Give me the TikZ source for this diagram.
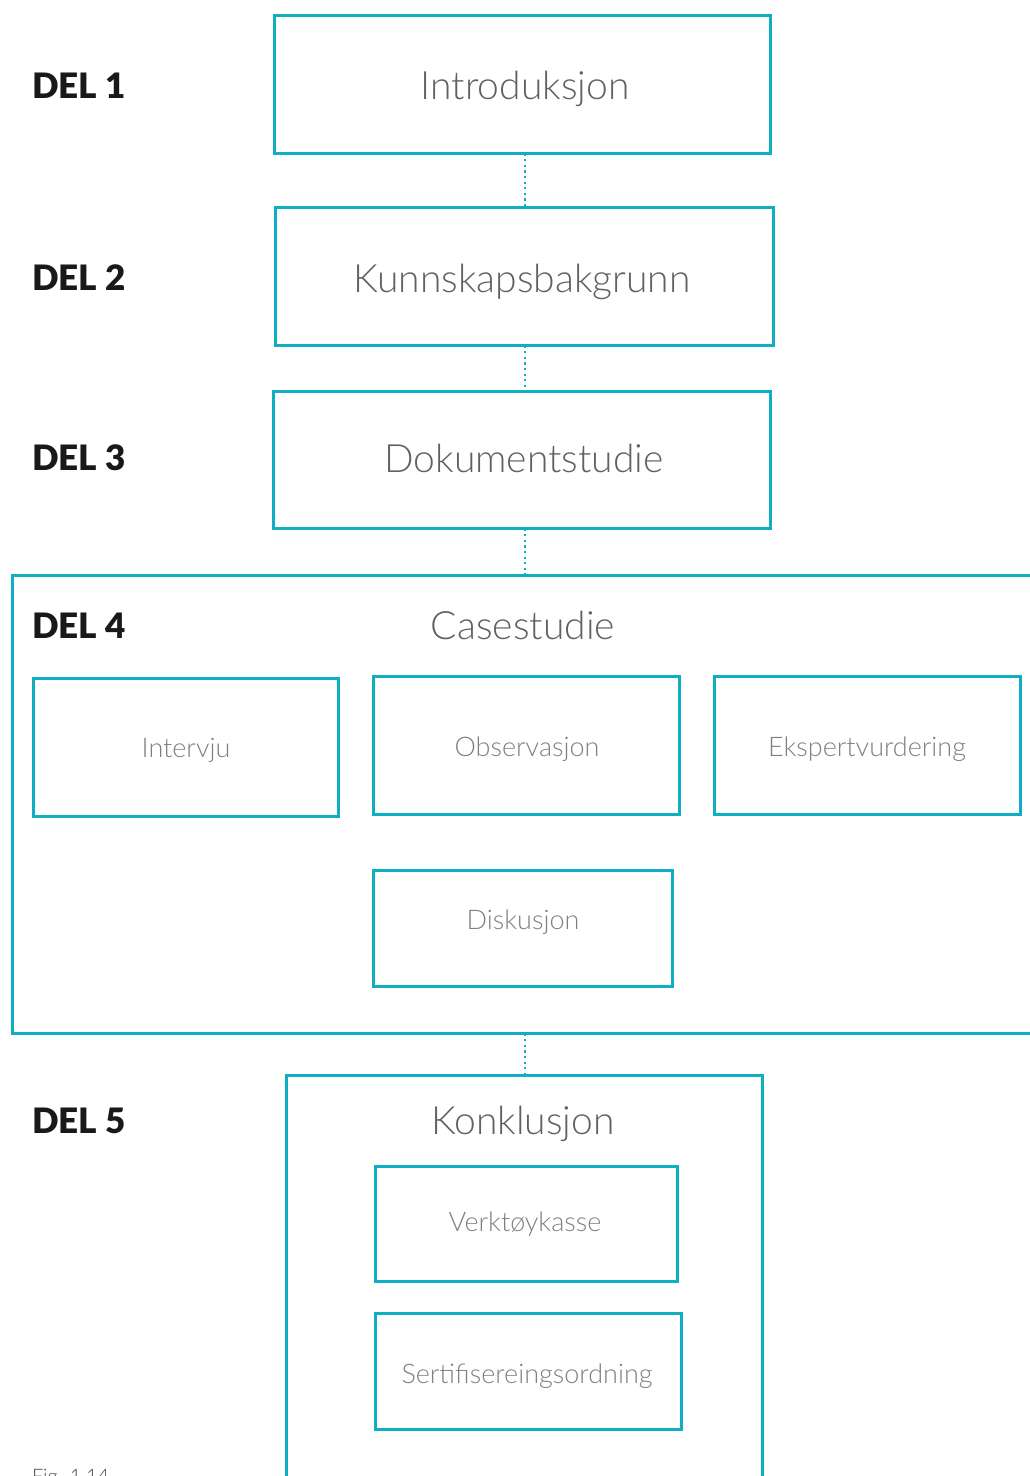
\documentclass[tikz,border=0pt]{standalone}
\usepackage{fontspec}
\IfFontExistsTF{Lato Light}{\newfontfamily\thinfont{Lato Light}}{\newfontfamily\thinfont{Lato}}
\IfFontExistsTF{Lato Black}{\newfontfamily\delfont{Lato Black}}{\newfontfamily\delfont{Lato}[UprightFont=*,UprightFeatures={FakeBold=2}]}
\definecolor{casecyan}{RGB}{16,174,194}
\begin{document}
\begin{tikzpicture}[x=1pt,y=-1pt,
  every node/.style={inner sep=0pt,outer sep=0pt},
  box/.style={draw=casecyan,line width=3pt,rectangle},
  title/.style={font=\thinfont\fontsize{39}{42}\selectfont,text=black!62,text height=27pt,text depth=0pt},
  sub/.style={font=\thinfont\fontsize{27}{30}\selectfont,text=black!50,text height=19pt,text depth=0pt},
  del/.style={font=\delfont\fontsize{35}{38}\selectfont,anchor=west,text=black!90},
  link/.style={draw=casecyan,line width=2.2pt,dash pattern=on 2.2pt off 3.4pt}]

\clip (0,0) rectangle (1030,1476);
\fill[white] (0,0) rectangle (1030,1476);
\coordinate (mid) at (525,0);

        \node[box,minimum width=496pt,minimum height=138pt] (intro) at (522.5,84.5) {};
        \node[box,minimum width=498pt,minimum height=138pt] (kunn) at (524.5,276.5) {};
        \node[box,minimum width=497pt,minimum height=137pt] (dok) at (522,460) {};
        \node[title] (introtext) at (525,86) {Introduksjon};
        \node[title] (kunntext) at (522,278.5) {Kunnskapsbakgrunn};
        \node[title] (doktext) at (524,458.5) {Dokumentstudie};

        \node[box,minimum width=1032.5pt,minimum height=458pt] (case) at (528.75,804.5) {};
        \node[title] (casetitle) at (523,626) {Casestudie};
        \node[box,minimum width=305pt,minimum height=138pt] (intervju) at (186,747.5) {};
        \node[box,minimum width=306pt,minimum height=138pt] (obs) at (526.5,745.5) {};
        \node[box,minimum width=306pt,minimum height=138pt] (ekspert) at (867.5,745.5) {};
        \node[box,minimum width=299pt,minimum height=116pt] (disk) at (523,928.5) {};
        \node[sub] (intervjutext) at (186,748) {Intervju};
        \node[sub] (obstext) at (527,746.5) {Observasjon};
        \node[sub] (eksperttext) at (867,746.5) {Ekspertvurdering};
        \node[sub] (disktext) at (523,920) {Diskusjon};

        \node[box,minimum width=476pt,minimum height=525pt] (konk) at (524.5,1338) {};
        \node[title] (konktitle) at (523,1121) {Konklusjon};
        \node[box,minimum width=302pt,minimum height=115pt] (verk) at (526.5,1224) {};
        \node[box,minimum width=306pt,minimum height=116pt] (sert) at (528.5,1371.5) {};
        \node[sub] (verktext) at (525,1221.5) {Verktøykasse};
        \node[sub] (serttext) at (527,1373.5) {Sertifisereingsordning};

        \draw[link] (intro.south -| mid) -- (kunn.north -| mid);
        \draw[link] (kunn.south -| mid) -- (dok.north -| mid);
        \draw[link] (dok.south -| mid) -- (case.north -| mid);
        \draw[link] (case.south -| mid) -- (konk.north -| mid);

        \node[del] (del1) at (32,86) {DEL 1};
        \node[del] (del2) at (32,278) {DEL 2};
        \node[del] (del3) at (32,458) {DEL 3};
        \node[del] (del4) at (32,626) {DEL 4};
        \node[del] (del5) at (32,1121) {DEL 5};

        \node[font=\thinfont\fontsize{20}{22}\selectfont,text=black!70,anchor=north west] (fig) at (32,1469) {Fig. 1.14};
\end{tikzpicture}
\end{document}
